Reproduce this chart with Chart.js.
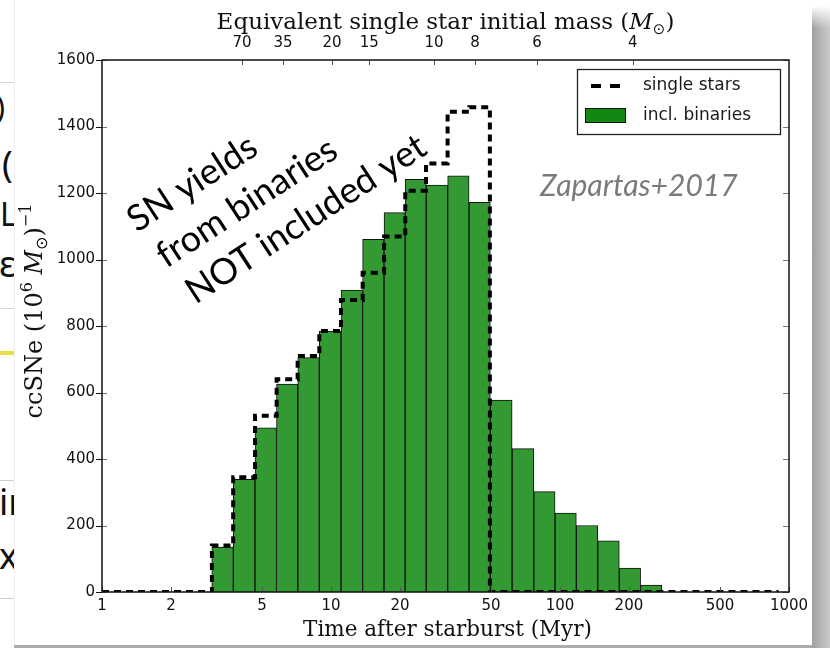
<!DOCTYPE html>
<html>
<head>
<meta charset="utf-8">
<script src="https://cdn.jsdelivr.net/npm/chart.js@4.4.1/dist/chart.umd.min.js"></script>
<style>
  html, body { margin: 0; padding: 0; background: #fff; }
  #wrap { position: relative; width: 830px; height: 648px; overflow: hidden; background: #fff; }
  #strip { position: absolute; left: 0; top: 0; width: 14px; height: 648px; overflow: hidden; border-right: 1px solid #f0f0f0; }
  #strip .rule { position: absolute; left: 0; width: 14px; height: 1px; background: #d6d6d6; }
  #strip .g { position: absolute; font-family: "Noto Sans", sans-serif; line-height: 1; color: #111; white-space: nowrap; }
  #shadow { position: absolute; left: 812px; top: 6px; width: 18px; height: 642px;
    background: linear-gradient(to bottom, rgba(255,255,255,1) 0, rgba(255,255,255,0) 22px),
                linear-gradient(to right, #9e9e9e, #b6b6b6 45%, #c9c9c9); }
  #bottomline { position: absolute; left: 14px; top: 645px; width: 798px; height: 3px; background: #acacac; }
  canvas { position: absolute; left: 0; top: 0; }
</style>
</head>
<body>
<div id="wrap">
  <div id="strip">
    <div class="rule" style="top:82px"></div>
    <div class="rule" style="top:308px"></div>
    <div class="rule" style="top:480px; background:#cfcfcf"></div>
    <div class="rule" style="top:598px; background:#cfcfcf"></div>
    <span class="g" style="left:-4px; top:92px; font-size:30px">)</span>
    <span class="g" style="left:2px; top:146px; font-size:36px">(</span>
    <span class="g" style="left:0px; top:198px; font-size:32px">L</span>
    <span class="g" style="left:-1px; top:246px; font-size:36px">ε</span>
    <div style="position:absolute; left:0; top:351px; width:14px; height:4px; background:#e9dc4a"></div>
    <span class="g" style="left:-1px; top:484px; font-size:36px">ir</span>
    <span class="g" style="left:-1px; top:538px; font-size:36px">x</span>
  </div>
  <div id="shadow"></div>
  <div id="bottomline"></div>
  <canvas id="chart" width="830" height="648"></canvas>
</div>
<script>
// bin edges of the histogram (Myr)
const binEdges = [3.02, 3.74, 4.66, 5.79, 7.15, 8.89, 11.06, 13.75, 17.05, 21.1, 26.0,
                  32.3, 40.2, 49.4, 61.9, 77.0, 95.1, 117.8, 146.1, 181.6, 225.1, 278.0];
// ccSNe per bin, including binaries (green bars)
const binaryCounts = [135, 339, 494, 625, 705, 785, 908, 1061, 1141, 1241, 1224,
                      1252, 1172, 577, 431, 302, 237, 200, 154, 72, 21];
// ccSNe per bin, single stars only (dashed step line)
const singleCounts = [140, 345, 530, 640, 710, 785, 878, 960, 1069, 1207, 1289,
                      1444, 1458, 0, 0, 0, 0, 0, 0, 0, 0];
const singleStart = 1;
const singleEnd = 900;

const timeTicks = [1, 2, 5, 10, 20, 50, 100, 200, 500, 1000];
const massTickTimes = [4.09, 6.17, 10.1, 14.7, 28.2, 42.5, 79.4, 208];
const massTickLabels = ['70', '35', '20', '15', '10', '8', '6', '4'];

const annotationLines = ['SN yields', 'from binaries', 'NOT included yet'];

const binCenters = binaryCounts.map((_, i) => Math.sqrt(binEdges[i] * binEdges[i + 1]));
const binaryPoints = binaryCounts.map((v, i) => ({ x: binCenters[i], y: v }));
const singlePoints = [{ x: singleStart, y: 0 }]
    .concat(singleCounts.map((v, i) => ({ x: binEdges[i], y: v })))
    .concat([{ x: binEdges[binEdges.length - 1], y: 0 }, { x: singleEnd, y: 0 }]);

const tickFont = { family: 'DejaVu Sans', size: 15 };
const SERIF = '"DejaVu Serif", serif';

function drawRich(ctx, parts, cx, baseY) {
    let w = 0;
    parts.forEach(p => { ctx.font = p.font; w += ctx.measureText(p.text).width; });
    let x = cx - w / 2;
    parts.forEach(p => {
        ctx.font = p.font;
        ctx.fillText(p.text, x, baseY + (p.dy || 0));
        x += ctx.measureText(p.text).width;
    });
}

function tick(ctx, x1, y1, x2, y2) {
    ctx.beginPath();
    ctx.moveTo(x1, y1);
    ctx.lineTo(x2, y2);
    ctx.stroke();
}

const framePlugin = {
    id: 'frame',
    afterDraw(chart) {
        const { ctx, chartArea: a, scales } = chart;
        ctx.save();

        // axis ticks
        ctx.lineWidth = 1;
        scales.y.ticks.forEach(t => {
            const py = Math.round(scales.y.getPixelForValue(t.value)) + 0.5;
            ctx.strokeStyle = '#111';
            tick(ctx, a.left - 6, py, a.left, py);
            ctx.strokeStyle = '#777';
            tick(ctx, a.left, py, a.left + 5, py);
            tick(ctx, a.right - 6, py, a.right, py);
        });
        ctx.strokeStyle = '#555';
        timeTicks.forEach(v => {
            const px = Math.round(scales.x.getPixelForValue(v)) + 0.5;
            tick(ctx, px, a.bottom, px, a.bottom - 5);
        });
        massTickTimes.forEach(v => {
            const px = Math.round(scales.x2.getPixelForValue(v)) + 0.5;
            tick(ctx, px, a.top, px, a.top + 5);
        });

        // spines
        ctx.strokeStyle = '#111';
        ctx.lineWidth = 1.5;
        ctx.strokeRect(a.left, a.top, a.right - a.left, a.bottom - a.top);

        // axis titles
        const SUN = '15px "DejaVu Sans"';
        ctx.fillStyle = '#111';
        ctx.textAlign = 'left';
        ctx.textBaseline = 'alphabetic';
        drawRich(ctx, [
            { text: 'Equivalent single star initial mass (', font: '23px ' + SERIF },
            { text: 'M', font: 'italic 23px ' + SERIF },
            { text: '\u2299', font: SUN, dy: 5 },
            { text: ')', font: '23px ' + SERIF }
        ], (a.left + a.right) / 2, 29);
        drawRich(ctx, [{ text: 'Time after starburst (Myr)', font: '21.5px ' + SERIF }],
            (a.left + a.right) / 2 + 2, 636);

        ctx.save();
        ctx.translate(42, (a.top + a.bottom) / 2 - 15);
        ctx.rotate(-Math.PI / 2);
        drawRich(ctx, [
            { text: 'ccSNe (10', font: '24px ' + SERIF },
            { text: '6', font: '16px ' + SERIF, dy: -10 },
            { text: ' M', font: 'italic 24px ' + SERIF },
            { text: '\u2299', font: '16px "DejaVu Sans"', dy: 5 },
            { text: ')', font: '24px ' + SERIF },
            { text: '\u22121', font: '16px ' + SERIF, dy: -11 }
        ], 0, 0);
        ctx.restore();

        // legend
        const bars = chart.data.datasets[0], line = chart.data.datasets[1];
        ctx.fillStyle = '#fff';
        ctx.fillRect(577, 69, 204, 66);
        ctx.strokeStyle = '#222';
        ctx.lineWidth = 1.3;
        ctx.strokeRect(577.5, 69.5, 203, 65);
        ctx.strokeStyle = line.borderColor;
        ctx.lineWidth = line.borderWidth;
        ctx.setLineDash([10, 9]);
        tick(ctx, 591, 86, 620, 86);
        ctx.setLineDash([]);
        ctx.fillStyle = '#128712';
        ctx.fillRect(585, 108, 41, 15);
        ctx.strokeStyle = '#111';
        ctx.lineWidth = 1;
        ctx.strokeRect(585.5, 108.5, 40, 14);
        ctx.fillStyle = '#1a1a1a';
        ctx.font = '17px "DejaVu Sans"';
        ctx.textBaseline = 'middle';
        ctx.fillText(line.label, 643, 86);
        ctx.fillText(bars.label, 643, 116);

        // annotations
        ctx.textBaseline = 'alphabetic';
        ctx.fillStyle = '#7a7a7a';
        ctx.font = 'italic 30px Lato';
        ctx.fillText('Zapartas+2017', 540, 196);

        ctx.save();
        ctx.translate(137, 233);
        ctx.rotate(-33 * Math.PI / 180);
        ctx.fillStyle = '#000';
        ctx.font = '36px Lato';
        annotationLines.forEach((s, i) => ctx.fillText(s, i * 5, i * 46));
        ctx.restore();

        ctx.restore();
    }
};

new Chart(document.getElementById('chart'), {
    type: 'bar',
    data: {
        datasets: [{
            type: 'bar',
            label: 'incl. binaries',
            data: binaryPoints,
            backgroundColor: '#339933',
            borderColor: '#111',
            borderWidth: 1,
            borderSkipped: 'start',
            barThickness: 'flex',
            barPercentage: 1,
            categoryPercentage: 1,
            xAxisID: 'x',
            order: 2
        }, {
            type: 'line',
            label: 'single stars',
            data: singlePoints,
            stepped: 'before',
            borderColor: '#000',
            borderWidth: 4,
            borderDash: [7, 5],
            borderCapStyle: 'butt',
            pointRadius: 0,
            fill: false,
            xAxisID: 'x',
            order: 1
        }]
    },
    options: {
        responsive: false,
        animation: false,
        layout: { padding: { left: 0, right: 41, top: 0, bottom: 0 } },
        plugins: {
            legend: { display: false },
            tooltip: { enabled: false }
        },
        scales: {
            x: {
                type: 'logarithmic',
                position: 'bottom',
                min: 1,
                max: 1000,
                offset: false,
                grid: { display: false, drawTicks: false },
                border: { display: false },
                afterBuildTicks: s => { s.ticks = timeTicks.map(v => ({ value: v })); },
                afterFit: s => { s.height = 56; s.paddingLeft = 0; s.paddingRight = 0; },
                ticks: {
                    autoSkip: false,
                    maxRotation: 0,
                    padding: 5,
                    color: '#111',
                    font: tickFont,
                    callback: v => String(v)
                }
            },
            x2: {
                type: 'logarithmic',
                position: 'top',
                min: 1,
                max: 1000,
                offset: false,
                grid: { display: false, drawTicks: false },
                border: { display: false },
                afterBuildTicks: s => { s.ticks = massTickTimes.map(v => ({ value: v })); },
                afterFit: s => { s.height = 60; s.paddingLeft = 0; s.paddingRight = 0; },
                ticks: {
                    autoSkip: false,
                    maxRotation: 0,
                    padding: 8,
                    color: '#111',
                    font: tickFont,
                    callback: (v, i) => massTickLabels[i]
                }
            },
            y: {
                min: 0,
                max: 1600,
                grid: { display: false, drawTicks: false },
                border: { display: false },
                afterFit: s => { s.width = 102; },
                ticks: {
                    stepSize: 200,
                    padding: 7,
                    color: '#111',
                    font: tickFont,
                    callback: v => String(v)
                }
            }
        }
    },
    plugins: [framePlugin]
});
</script>
</body>
</html>
